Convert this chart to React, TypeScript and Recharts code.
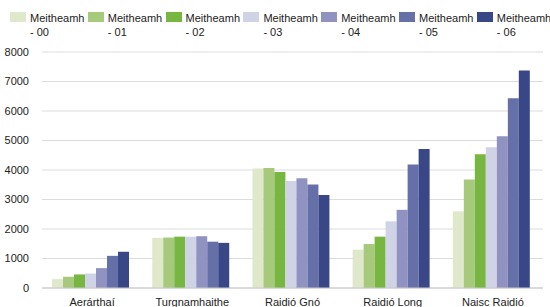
import { Bar, BarChart, CartesianGrid, XAxis, YAxis } from "recharts";

const categories = ["Aerárthaí", "Turgnamhaithe", "Raidió Gnó", "Raidió Long", "Naisc Raidió"];
const seriesKeys = ["m00", "m01", "m02", "m03", "m04", "m05", "m06"];
const seriesLabels = ["- 00", "- 01", "- 02", "- 03", "- 04", "- 05", "- 06"];
const seriesColors = ["#e0e8cb", "#a6c97c", "#77b641", "#d0d2e5", "#9093c1", "#6670a8", "#3a4787"];

const m00 = [300, 1700, 4050, 1300, 2600];
const m01 = [380, 1710, 4070, 1490, 3680];
const m02 = [460, 1740, 3930, 1740, 4530];
const m03 = [490, 1740, 3630, 2260, 4770];
const m04 = [675, 1755, 3720, 2650, 5140];
const m05 = [1090, 1570, 3510, 4190, 6430];
const m06 = [1230, 1530, 3150, 4710, 7370];
const yTicks = [0, 1000, 2000, 3000, 4000, 5000, 6000, 7000, 8000];

const series = [m00, m01, m02, m03, m04, m05, m06];
const data = categories.map((name, i) => {
  const row: Record<string, string | number> = { name };
  seriesKeys.forEach((k, s) => {
    row[k] = series[s][i];
  });
  return row;
});

const font = "'Liberation Sans', Arial, sans-serif";

// legend drawn over the chart so it doesn't push the plot down
function TopLegend() {
  return (
    <div style={{ position: "absolute", left: 0, top: 0, width: 550, height: 40, fontFamily: font, fontSize: 11, color: "#222" }}>
      {seriesKeys.map((k, i) => (
        <div key={k} style={{ position: "absolute", left: 10 + i * 77.8, top: 12, display: "flex" }}>
          <div style={{ width: 16, height: 10, background: seriesColors[i], marginRight: 4 }} />
          <div style={{ lineHeight: "14px", marginTop: -1, whiteSpace: "nowrap" }}>
            <div>Meitheamh</div>
            <div>{seriesLabels[i]}</div>
          </div>
        </div>
      ))}
    </div>
  );
}

export default function App() {
  return (
    <div style={{ position: "absolute", left: 0, top: 0, width: 550, height: 307, background: "#fff", overflow: "hidden" }}>
      <BarChart
        width={550}
        height={307}
        data={data}
        margin={{ top: 52, right: 7, bottom: 0, left: 0 }}
        barCategoryGap="10%"
        barGap={0}
      >
        <CartesianGrid vertical={false} stroke="#dcdcdc" />
        <XAxis
          dataKey="name"
          height={19}
          tickLine={false}
          axisLine={{ stroke: "#c8c8c8" }}
          tickMargin={4}
          tick={{ fontFamily: font, fontSize: 11, fill: "#222" }}
          interval={0}
        />
        <YAxis
          width={42}
          domain={[0, 8000]}
          ticks={yTicks}
          axisLine={false}
          tickLine={false}
          tickMargin={7}
          tick={{ fontFamily: font, fontSize: 11, fill: "#222" }}
        />
        {seriesKeys.map((k, i) => (
          <Bar key={k} dataKey={k} fill={seriesColors[i]} isAnimationActive={false} />
        ))}
      </BarChart>
      <TopLegend />
    </div>
  );
}
